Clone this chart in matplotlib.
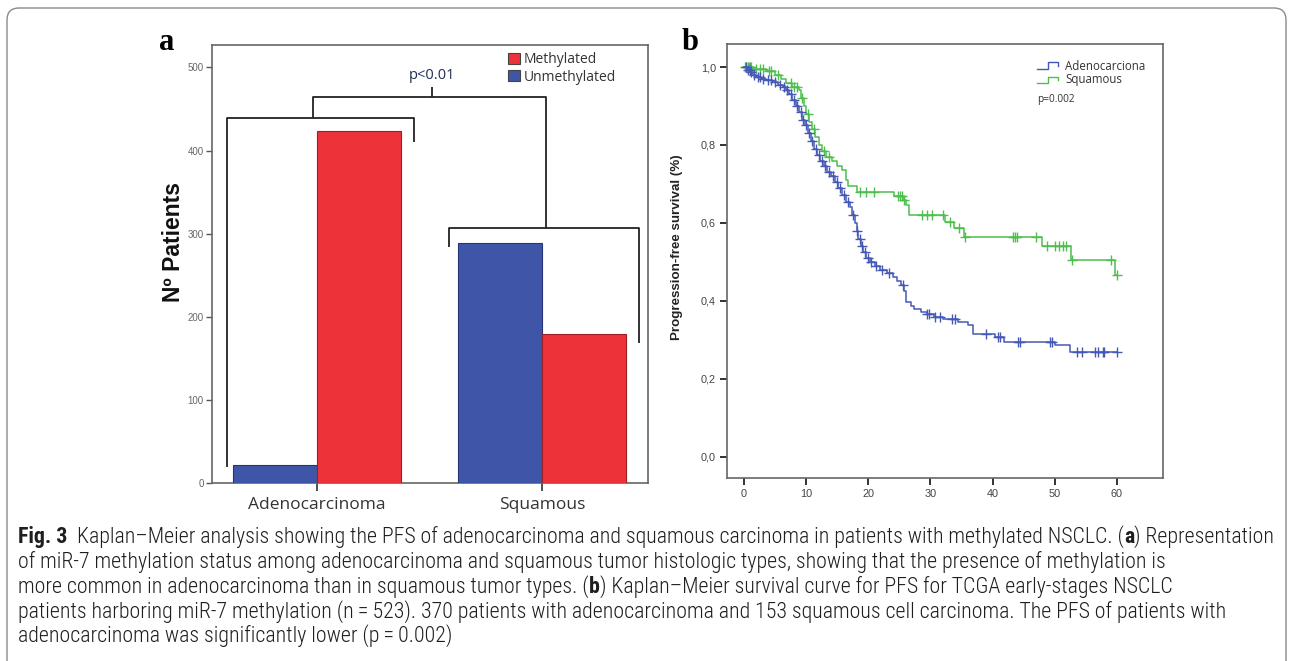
import numpy as np
import matplotlib
matplotlib.use('Agg')
import matplotlib.pyplot as plt
from matplotlib import font_manager as fm
from matplotlib.patches import FancyBboxPatch, Patch
from matplotlib.transforms import IdentityTransform

# ---------------- data: panel a ----------------
histotypes = ['Adenocarcinoma', 'Squamous']
methylated = [423, 179]
unmethylated = [22, 289]
legend_a = ['Methylated', 'Unmethylated']
yticks_a = [0, 100, 200, 300, 400, 500]
ylabel_a = 'Nº Patients'
p_text_a = 'p<0.01'

# ---------------- data: panel b (Kaplan-Meier steps) ----------------
adeno_t = [0, 0.5, 1.0, 1.5, 2.0, 2.8, 3.5, 4.5, 5.5, 6.2, 6.8, 7.3, 7.8, 8.3, 8.8,
           9.3, 9.8, 10.3, 10.8, 11.3, 11.8, 12.3, 12.8, 13.4, 14.0, 14.6, 15.2,
           15.8, 16.4, 17.0, 17.4, 17.8, 18.1, 18.4, 18.8, 19.2, 19.7, 20.2, 21.0,
           21.8, 23.0, 24.0, 24.6, 25.2, 25.7, 26.0, 26.8, 27.3, 28.5, 29.4, 30.6,
           32.0, 34.4, 36.1, 36.9, 40.4, 41.9, 50.1, 52.4]
adeno_s = [1.0, 0.993, 0.987, 0.980, 0.975, 0.970, 0.966, 0.962, 0.955, 0.948, 0.940,
           0.930, 0.915, 0.900, 0.885, 0.865, 0.850, 0.830, 0.810, 0.790, 0.775,
           0.760, 0.745, 0.730, 0.720, 0.705, 0.690, 0.672, 0.655, 0.640, 0.620,
           0.600, 0.580, 0.560, 0.540, 0.525, 0.510, 0.500, 0.490, 0.480, 0.472,
           0.462, 0.450, 0.440, 0.425, 0.398, 0.388, 0.379, 0.372, 0.366, 0.360,
           0.353, 0.347, 0.338, 0.315, 0.308, 0.294, 0.286, 0.268]
adeno_cens = [0.3, 0.6, 0.9, 1.2, 1.6, 2.2, 2.6, 3.1, 3.9, 4.3, 5.0, 5.8, 6.5, 7.0,
              7.6, 8.1, 8.6, 9.1, 9.5, 10.0, 10.5, 11.0, 11.6, 12.1, 12.6, 13.1,
              13.7, 14.3, 14.9, 15.5, 16.1, 16.7, 17.6, 18.2, 18.6, 19.0, 19.4,
              19.9, 20.5, 21.2, 22.2, 23.4, 25.5, 29.5, 29.7, 30.8, 31.5, 33.5,
              34.0, 39.0, 40.8, 41.2, 44.0, 44.4, 49.3, 49.6, 53.5, 54.3, 56.4,
              56.9, 57.7, 57.9, 60.0]

squam_t = [0, 1.5, 3.5, 5.0, 6.0, 6.8, 7.8, 8.8, 9.2, 9.6, 10.0, 10.5, 11.0, 11.5,
           12.0, 12.6, 13.2, 14.2, 15.0, 15.8, 16.4, 16.8, 18.2, 24.2, 25.5, 26.0,
           26.5, 32.4, 33.8, 35.4, 48.0, 52.6, 59.6]
squam_s = [1.0, 0.995, 0.990, 0.980, 0.970, 0.960, 0.950, 0.940, 0.920, 0.900,
           0.880, 0.860, 0.840, 0.820, 0.800, 0.785, 0.770, 0.760, 0.745, 0.735,
           0.710, 0.695, 0.680, 0.668, 0.660, 0.645, 0.620, 0.603, 0.588, 0.565,
           0.540, 0.505, 0.467]
squam_cens = [0.2, 0.4, 0.6, 0.8, 1.0, 1.2, 2.0, 2.5, 3.0, 4.0, 4.4, 5.5, 7.5, 8.0,
              8.5, 9.4, 10.3, 11.3, 12.9, 13.6, 18.6, 19.6, 20.9, 24.8, 25.1, 25.4,
              25.8, 28.6, 29.4, 30.3, 32.0, 33.1, 34.6, 35.6, 43.3, 43.6, 43.9,
              47.0, 48.8, 50.0, 50.7, 51.3, 51.8, 52.7, 59.0, 60.0]
follow_end = 60
xticks_b = [0, 10, 20, 30, 40, 50, 60]
yticks_b = [0.0, 0.2, 0.4, 0.6, 0.8, 1.0]
ytick_labels_b = ['0,0', '0,2', '0,4', '0,6', '0,8', '1,0']
series_b = ['Adenocarciona', 'Squamous']
ylabel_b = 'Progression-free survival (%)'
p_text_b = 'p=0.002'

caption_lines = [
    [('Fig. 3', True), ('Kaplan–Meier analysis showing the PFS of adenocarcinoma and squamous carcinoma in patients with methylated NSCLC. (', False), ('a', True), (') Representation', False)],
    [('of miR-7 methylation status among adenocarcinoma and squamous tumor histologic types, showing that the presence of methylation is', False)],
    [('more common in adenocarcinoma than in squamous tumor types. (', False), ('b', True), (') Kaplan–Meier survival curve for PFS for TCGA early-stages NSCLC', False)],
    [('patients harboring miR-7 methylation (n\u2009=\u2009523). 370 patients with adenocarcinoma and 153 squamous cell carcinoma. The PFS of patients with', False)],
    [('adenocarcinoma was significantly lower (p\u2009=\u20090.002)', False)],
]

# ---------------- figure ----------------
W, H = 1293, 661
fig = plt.figure(figsize=(W / 100, H / 100), dpi=100)
fig.patch.set_facecolor('white')

SANS = ['Liberation Sans', 'DejaVu Sans']
UI = ['Open Sans', 'DejaVu Sans']

def px_axes(l, t, r, b):
    return fig.add_axes([l / W, 1 - b / H, (r - l) / W, (b - t) / H])

# outer rounded frame
frame = FancyBboxPatch((7, -12), 1279, H - 8 + 12, boxstyle='round,pad=0,rounding_size=12',
                       transform=IdentityTransform(), fill=False, edgecolor='#8a8a8a', lw=1.0)
fig.add_artist(frame)

# ---------------- panel a ----------------
axa = px_axes(212, 45, 648, 483)
x = np.arange(len(histotypes))
bw = 0.373
axa.bar(x - bw / 2, unmethylated, width=bw, color='#3F56A8', edgecolor='#263578', lw=0.8, zorder=3)
axa.bar(x + bw / 2, methylated, width=bw, color='#EE3239', edgecolor='#9e1f25', lw=0.8, zorder=3)
axa.set_xlim(-0.467, 1.471)
axa.set_ylim(0, 527)
axa.set_yticks(yticks_a)
axa.set_yticklabels([str(v) for v in yticks_a], fontsize=7, color='#666', family=SANS)
axa.set_xticks(x)
axa.set_xticklabels(histotypes, fontsize=12.5, color='#333', family=UI)
axa.tick_params(axis='y', direction='out', length=4, width=1, color='#555', pad=2)
axa.tick_params(axis='x', direction='out', length=6, width=1.2, color='#333', pad=4)
for s in axa.spines.values():
    s.set_color('#666')
    s.set_linewidth(1.2)
axa.set_ylabel(ylabel_a, fontsize=16.5, fontweight='bold', family=SANS, color='#111')
axa.yaxis.set_label_coords(-0.062, 0.55)

# significance brackets (annotation geometry)
bk = dict(color='#222', lw=1.3, zorder=4, solid_capstyle='butt')
axa.plot([-0.40, -0.40, 0.431, 0.431], [19, 439, 439, 410], **bk)
axa.plot([0.587, 0.587, 1.431, 1.431], [284, 307, 307, 168], **bk)
axa.plot([-0.018, -0.018, 1.018, 1.018], [439, 464, 464, 307], **bk)
axa.plot([0.511, 0.511], [464, 476], **bk)
axa.text(0.511, 481, p_text_a, ha='center', va='bottom', fontsize=10.5, color='#1f2d52', family=UI)

handles = [Patch(facecolor='#EE3239', edgecolor='#444', lw=0.8),
           Patch(facecolor='#3F56A8', edgecolor='#444', lw=0.8)]
leg = axa.legend(handles, legend_a, loc='upper left', bbox_to_anchor=(0.663, 1.0),
                 frameon=False, borderpad=0, handlelength=0.85, handleheight=0.85,
                 handletextpad=0.3, labelspacing=0.2, prop={'family': UI, 'size': 10})
for t in leg.get_texts():
    t.set_color('#333')

fig.text(167 / W, 1 - 50 / H, 'a', fontsize=22, fontweight='bold',
         family=['Liberation Serif', 'DejaVu Serif'], ha='center', va='baseline')

# ---------------- panel b ----------------
axb = px_axes(727, 44, 1163, 478)
axb.set_xlim(-2.73, 67.4)
axb.set_ylim(-0.054, 1.059)

def km(t, s, end):
    T = np.append(np.asarray(t, float), end)
    S = np.append(np.asarray(s, float), s[-1])
    return T, S

def level(T, S, c):
    idx = np.searchsorted(T, c, side='right') - 1
    return S[np.clip(idx, 0, len(S) - 1)]

col_adeno = '#4558B5'
col_squam = '#4EBE4E'
for t, s, c, col, z in [(adeno_t, adeno_s, adeno_cens, col_adeno, 3),
                        (squam_t, squam_s, squam_cens, col_squam, 2)]:
    T, S = km(t, s, follow_end)
    axb.step(T, S, where='post', color=col, lw=1.1, zorder=z)
    cc = np.asarray(c, float)
    axb.plot(cc, level(T, S, cc), ls='none', marker='+', ms=7, mew=1.0, color=col, zorder=z)

axb.set_xticks(xticks_b)
axb.set_xticklabels([str(v) for v in xticks_b], fontsize=7.8, color='#444', family=SANS)
axb.set_yticks(yticks_b)
axb.set_yticklabels(ytick_labels_b, fontsize=7.8, color='#444', family=SANS)
axb.tick_params(axis='both', direction='out', length=5, width=1.4, color='#333', pad=3)
for s in axb.spines.values():
    s.set_color('#666')
    s.set_linewidth(1.2)
axb.set_ylabel(ylabel_b, fontsize=9.6, fontweight='bold', family=SANS, color='#222')
axb.yaxis.set_label_coords(-0.101, 0.532)

# legend with step glyphs
leg_rows = [(series_b[0], col_adeno, 0.9585, 0.9424, 0.949),
            (series_b[1], col_squam, 0.924, 0.910, 0.919)]
x0, xm, x1 = 0.711, 0.736, 0.759
for lab, col, hi, lo, ty in leg_rows:
    axb.plot([x0, xm, xm, x1, x1], [lo, lo, hi, hi, (hi + lo) / 2], color=col, lw=1.0,
             transform=axb.transAxes, clip_on=False)
    axb.text(0.775, ty, lab, transform=axb.transAxes, fontsize=8.3, color='#333',
             family=UI, va='center', ha='left')
axb.text(0.711, 0.873, p_text_b, transform=axb.transAxes, fontsize=7.3, color='#333',
         family=UI, va='center', ha='left')

fig.text(690 / W, 1 - 50 / H, 'b', fontsize=22, fontweight='bold',
         family=['Liberation Serif', 'DejaVu Serif'], ha='center', va='baseline')

# ---------------- caption ----------------
names = {f.name for f in fm.fontManager.ttflist}
cap_family, cap_stretch = None, 'normal'
for n in ['Liberation Sans Narrow', 'Roboto Condensed', 'Open Sans Condensed',
          'Noto Sans Condensed', 'Arial Narrow']:
    if n in names:
        cap_family = n
        break
if cap_family is None:
    for f in fm.fontManager.ttflist:
        if str(f.stretch) in ('condensed', 'semi-condensed') and f.name in ('Noto Sans', 'Open Sans', 'Roboto', 'DejaVu Sans'):
            cap_family, cap_stretch = f.name, f.stretch
            break
if cap_family is None:
    cap_family = 'Liberation Sans'
cap_fam = [cap_family, 'DejaVu Sans']
NORMAL_W = 'light'

renderer = fig.canvas.get_renderer()

def text_w(s, size, bold):
    t = fig.text(0, 0, s, fontsize=size, fontweight='bold' if bold else NORMAL_W,
                 family=cap_fam, fontstretch=cap_stretch)
    w = t.get_window_extent(renderer=renderer).width
    t.remove()
    return w

def seg_width(s, size, bold):
    return text_w('X' + s + 'X', size, bold) - text_w('XX', size, bold)

def draw_line(segs, x_px, base_px, size):
    x = x_px
    for i, (s, bold) in enumerate(segs):
        fig.text(x / W, 1 - base_px / H, s, fontsize=size,
                 fontweight='bold' if bold else NORMAL_W, family=cap_fam,
                 fontstretch=cap_stretch, color='#1e1e1e', ha='left', va='baseline')
        x += seg_width(s, size, bold)
        if i == 0 and bold and s.startswith('Fig'):
            x += seg_width('  ', size, False)

# fit the caption size so that the first line spans the reference width
ref_size = 11.0
w1 = sum(seg_width(s, ref_size, b) for s, b in caption_lines[0]) + seg_width('  ', ref_size, False)
cap_size = ref_size * 1254.0 / w1
baselines = [543, 568, 593, 618, 642]
for segs, bl in zip(caption_lines, baselines):
    draw_line(segs, 18, bl, cap_size)

fig.savefig('out.png', dpi=100, facecolor='white')
